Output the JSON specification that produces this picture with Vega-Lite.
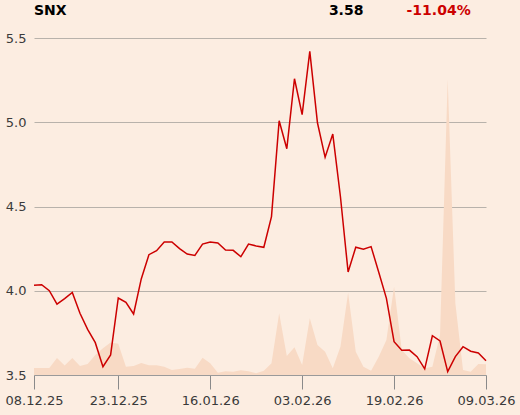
{
  "$schema": "https://vega.github.io/schema/vega-lite/v6.json",
  "width": 452,
  "height": 337,
  "autosize": {"type": "none"},
  "padding": {"left": 34, "top": 38, "right": 34, "bottom": 40},
  "background": "#fcede1",
  "config": {
    "view": {"stroke": null},
    "font": "DejaVu Sans",
    "axis": {"labelFont": "DejaVu Sans", "labelFontSize": 13, "labelColor": "#3a3a3a"}
  },
  "data": {
    "values": [
      {"d": "08.12.25", "price": 4.032, "vol": 7},
      {"d": "09.12.25", "price": 4.036, "vol": 7},
      {"d": "10.12.25", "price": 4.0, "vol": 7},
      {"d": "11.12.25", "price": 3.921, "vol": 17},
      {"d": "12.12.25", "price": 3.953, "vol": 9.5},
      {"d": "15.12.25", "price": 3.99, "vol": 17},
      {"d": "16.12.25", "price": 3.866, "vol": 9},
      {"d": "17.12.25", "price": 3.771, "vol": 11},
      {"d": "18.12.25", "price": 3.692, "vol": 20},
      {"d": "19.12.25", "price": 3.549, "vol": 26.7},
      {"d": "22.12.25", "price": 3.619, "vol": 32.5},
      {"d": "23.12.25", "price": 3.957, "vol": 31.3},
      {"d": "29.12.25", "price": 3.931, "vol": 8.3},
      {"d": "30.12.25", "price": 3.862, "vol": 9},
      {"d": "05.01.26", "price": 4.07, "vol": 12},
      {"d": "06.01.26", "price": 4.214, "vol": 9.7},
      {"d": "07.01.26", "price": 4.238, "vol": 9.7},
      {"d": "08.01.26", "price": 4.289, "vol": 8.3},
      {"d": "09.01.26", "price": 4.289, "vol": 5},
      {"d": "12.01.26", "price": 4.25, "vol": 6},
      {"d": "13.01.26", "price": 4.218, "vol": 7.3},
      {"d": "14.01.26", "price": 4.21, "vol": 6.3},
      {"d": "15.01.26", "price": 4.277, "vol": 17.3},
      {"d": "16.01.26", "price": 4.289, "vol": 11.7},
      {"d": "19.01.26", "price": 4.283, "vol": 2.3},
      {"d": "20.01.26", "price": 4.242, "vol": 3.7},
      {"d": "21.01.26", "price": 4.24, "vol": 3.3},
      {"d": "22.01.26", "price": 4.202, "vol": 4.7},
      {"d": "23.01.26", "price": 4.277, "vol": 3.8},
      {"d": "26.01.26", "price": 4.266, "vol": 1.8},
      {"d": "27.01.26", "price": 4.258, "vol": 4.3},
      {"d": "28.01.26", "price": 4.44, "vol": 11.7},
      {"d": "29.01.26", "price": 5.009, "vol": 61.7},
      {"d": "30.01.26", "price": 4.843, "vol": 19},
      {"d": "02.02.26", "price": 5.258, "vol": 27.7},
      {"d": "03.02.26", "price": 5.045, "vol": 10},
      {"d": "04.02.26", "price": 5.421, "vol": 56.7},
      {"d": "05.02.26", "price": 4.997, "vol": 30},
      {"d": "06.02.26", "price": 4.792, "vol": 23.3},
      {"d": "09.02.26", "price": 4.93, "vol": 6.7},
      {"d": "10.02.26", "price": 4.558, "vol": 28.3},
      {"d": "11.02.26", "price": 4.111, "vol": 82.3},
      {"d": "12.02.26", "price": 4.258, "vol": 23.3},
      {"d": "13.02.26", "price": 4.246, "vol": 8.3},
      {"d": "16.02.26", "price": 4.262, "vol": 4.3},
      {"d": "17.02.26", "price": 4.11, "vol": 18.3},
      {"d": "18.02.26", "price": 3.955, "vol": 35},
      {"d": "19.02.26", "price": 3.698, "vol": 88.3},
      {"d": "20.02.26", "price": 3.647, "vol": 25},
      {"d": "23.02.26", "price": 3.648, "vol": 16.7},
      {"d": "24.02.26", "price": 3.609, "vol": 11.7},
      {"d": "25.02.26", "price": 3.536, "vol": 6.7},
      {"d": "26.02.26", "price": 3.733, "vol": 8.3},
      {"d": "27.02.26", "price": 3.702, "vol": 40},
      {"d": "02.03.26", "price": 3.52, "vol": 295.7},
      {"d": "03.03.26", "price": 3.609, "vol": 71.7},
      {"d": "04.03.26", "price": 3.668, "vol": 5},
      {"d": "05.03.26", "price": 3.641, "vol": 3.3},
      {"d": "06.03.26", "price": 3.631, "vol": 11},
      {"d": "09.03.26", "price": 3.585, "vol": 10.7}
    ]
  },
  "layer": [
    {
      "mark": {"type": "area", "color": "#f8dac5", "interpolate": "linear"},
      "encoding": {
        "x": {"field": "d", "type": "ordinal", "sort": null, "scale": {"type": "point", "padding": 0},
          "axis": {"values": ["08.12.25", "23.12.25", "16.01.26", "03.02.26", "19.02.26", "09.03.26"],
            "labelAngle": 0, "title": null, "grid": false, "tickSize": 14, "tickColor": "#8a8a8a",
            "domainColor": "#9a9a9a", "labelPadding": 5}},
        "y": {"field": "vol", "type": "quantitative", "scale": {"domain": [0, 337], "nice": false}, "axis": null}
      }
    },
    {
      "layer": [
        {
          "mark": {"type": "line", "color": "#cc0000", "strokeWidth": 1.5},
          "encoding": {
            "x": {"field": "d", "type": "ordinal", "sort": null},
            "y": {"field": "price", "type": "quantitative",
              "scale": {"domain": [3.5, 5.5], "nice": false, "zero": false},
              "axis": {"values": [3.5, 4, 4.5, 5, 5.5], "format": ".1f", "title": null, "domain": false,
                "ticks": false, "grid": true, "gridColor": "#b8b2ab", "labelPadding": 8}}
          }
        },
        {
          "data": {"values": [{"label": "SNX"}]},
          "mark": {"type": "text", "align": "left", "baseline": "alphabetic", "fontSize": 14, "fontWeight": "bold", "color": "#000000"},
          "encoding": {
            "x": {"datum": "08.12.25", "type": "ordinal"},
            "y": {"datum": 5.6365, "type": "quantitative"},
            "text": {"field": "label"}
          }
        },
        {
          "data": {"values": [{"label": "3.58"}]},
          "mark": {"type": "text", "align": "right", "baseline": "alphabetic", "fontSize": 14, "fontWeight": "bold", "color": "#000000"},
          "encoding": {
            "x": {"datum": "13.02.26", "type": "ordinal"},
            "y": {"datum": 5.6365, "type": "quantitative"},
            "text": {"field": "label"}
          }
        },
        {
          "data": {"values": [{"label": "-11.04%"}]},
          "mark": {"type": "text", "align": "right", "baseline": "alphabetic", "fontSize": 14, "fontWeight": "bold", "color": "#cc0000"},
          "encoding": {
            "x": {"datum": "05.03.26", "type": "ordinal"},
            "y": {"datum": 5.6365, "type": "quantitative"},
            "text": {"field": "label"}
          }
        }
      ]
    }
  ],
  "resolve": {"scale": {"y": "independent"}}
}
